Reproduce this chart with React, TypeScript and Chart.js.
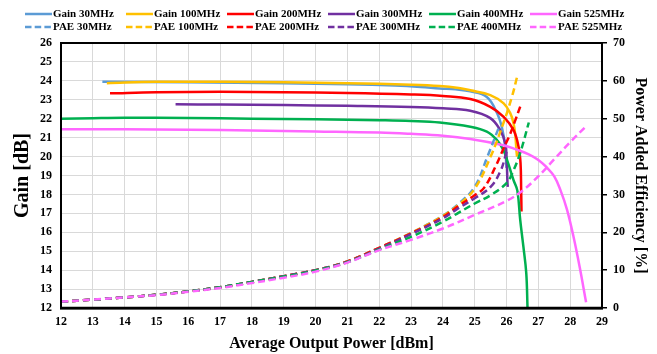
import React, { useEffect, useRef } from 'react';
import { Chart, registerables } from 'chart.js';

Chart.register(...registerables);

const FONT = '"Liberation Serif", "Times New Roman", serif';

// ---- data: [Average output power dBm, value] ----
const gain30 = [[13.3, 23.95], [16, 23.92], [19, 23.87], [21, 23.82], [22.5, 23.75], [23.3, 23.68], [23.9, 23.6], [24.4, 23.55], [24.86, 23.45], [25.38, 23.15], [25.7, 22.3], [25.86, 21.5], [25.95, 20.6], [26.0, 19.4]];
const gain100 = [[13.44, 23.88], [15, 23.95], [17, 23.95], [19, 23.92], [21, 23.88], [23, 23.8], [23.9, 23.73], [24.5, 23.62], [24.86, 23.5], [25.49, 23.25], [25.91, 22.81], [26.12, 22.28], [26.22, 21.76], [26.28, 21.05], [26.31, 20.35], [26.33, 20.0]];
const gain200 = [[13.54, 23.34], [15, 23.4], [17, 23.42], [19, 23.4], [21, 23.36], [23, 23.28], [24, 23.2], [24.86, 23.04], [25.49, 22.63], [25.91, 22.1], [26.22, 21.4], [26.38, 20.5], [26.44, 19.65], [26.46, 18.2], [26.47, 17.1]];
const gain300 = [[15.6, 22.76], [17, 22.75], [19, 22.72], [21, 22.68], [23, 22.62], [24, 22.55], [24.86, 22.42], [25.49, 22.03], [25.8, 21.4], [25.96, 20.7], [26.0, 19.98], [26.03, 18.6], [26.04, 18.4]];
const gain400 = [[12, 22.0], [13, 22.03], [14, 22.05], [16, 22.04], [18, 22.0], [20, 21.97], [22, 21.92], [23, 21.88], [23.9, 21.8], [24.86, 21.58], [25.38, 21.32], [25.7, 20.87], [25.9, 20.35], [26.05, 19.65], [26.22, 18.76], [26.34, 18.2], [26.43, 16.65], [26.53, 15.24], [26.62, 13.84], [26.66, 12.0]];
const gain525 = [[12, 21.45], [14, 21.44], [16, 21.42], [18, 21.38], [20, 21.33], [22, 21.27], [23, 21.2], [24, 21.1], [24.86, 20.93], [25.9, 20.6], [26.3, 20.38], [26.7, 20.12], [27.0, 19.82], [27.25, 19.45], [27.5, 18.95], [27.7, 18.2], [27.9, 17.2], [28.1, 15.8], [28.3, 14.15], [28.5, 12.3]];

const pae30 = [[12, 1.7], [13, 2.2], [14, 2.8], [15, 3.5], [16, 4.4], [17, 5.5], [18, 6.9], [19, 8.4], [20, 10.0], [21, 12.3], [22, 15.9], [23, 19.8], [24, 24.4], [24.5, 27.6], [25, 32.0], [25.4, 40.0], [25.75, 47.5]];
const pae100 = [[12, 1.7], [13, 2.2], [14, 2.8], [15, 3.5], [16, 4.4], [17, 5.5], [18, 6.9], [19, 8.4], [20, 10.0], [21, 12.3], [22, 15.9], [23, 19.8], [24, 24.3], [24.5, 27.3], [25, 31.5], [25.5, 40.0], [25.9, 48.8], [26.17, 55.8], [26.33, 61.0]];
const pae200 = [[12, 1.7], [13, 2.2], [14, 2.8], [15, 3.5], [16, 4.4], [17, 5.5], [18, 6.9], [19, 8.4], [20, 10.0], [21, 12.3], [22, 15.9], [23, 19.7], [24, 24.0], [24.5, 27.0], [25, 29.8], [25.3, 31.8], [25.65, 37.3], [25.91, 42.2], [26.12, 46.1], [26.28, 49.7], [26.43, 53.2]];
const pae300 = [[12, 1.7], [13, 2.2], [14, 2.8], [15, 3.5], [16, 4.4], [17, 5.5], [18, 6.9], [19, 8.4], [20, 10.0], [21, 12.2], [22, 15.7], [23, 19.5], [24, 23.7], [24.5, 26.4], [25, 29.0], [25.5, 32.0], [25.8, 36.0], [25.96, 40.0], [26.02, 42.3]];
const pae400 = [[12, 1.7], [13, 2.2], [14, 2.8], [15, 3.5], [16, 4.4], [17, 5.5], [18, 6.9], [19, 8.3], [20, 9.9], [21, 12.1], [22, 15.5], [23, 18.8], [24, 22.8], [24.5, 25.2], [25, 27.6], [25.5, 29.8], [26, 33.0], [26.2, 36.0], [26.43, 41.0], [26.7, 49.0]];
const pae525 = [[12, 1.7], [13, 2.2], [14, 2.8], [15, 3.4], [16, 4.3], [17, 5.3], [18, 6.6], [19, 8.0], [20, 9.6], [21, 12.0], [22, 15.3], [23, 18.0], [24, 21.0], [25, 24.6], [26, 28.3], [26.5, 31.0], [27, 34.8], [27.5, 39.3], [28, 43.8], [28.5, 48.0]];

const gainSeries = [gain30, gain100, gain200, gain300, gain400, gain525];
const paeSeries = [pae30, pae100, pae200, pae300, pae400, pae525];
const freqLabels = ['30MHz', '100MHz', '200MHz', '300MHz', '400MHz', '525MHz'];
const colors = ['#5B9BD5', '#FFC000', '#FF0000', '#7030A0', '#00B050', '#FF66FF'];

const xTicks = { min: 12, max: 29, step: 1 };
const gainTicks = { min: 12, max: 26, step: 1 };
const paeTicks = { min: 0, max: 70, step: 10 };

const DASH = [7, 4];

const legendPlugin = {
  id: 'customLegend',
  afterDraw(chart: any) {
    const ctx = chart.ctx;
    ctx.save();
    ctx.font = `bold 11px ${FONT}`;
    ctx.textBaseline = 'middle';
    ctx.textAlign = 'left';
    chart.data.datasets.forEach((ds: any, i: number) => {
      const row = i < 6 ? 0 : 1;
      const col = i % 6;
      const x = 24 + col * 101;
      const y = row === 0 ? 14 : 27;
      ctx.strokeStyle = ds.borderColor;
      ctx.lineWidth = 2.5;
      ctx.setLineDash(row === 0 ? [] : [6.5, 3.2]);
      ctx.beginPath();
      ctx.moveTo(x + 1, y);
      ctx.lineTo(x + 28, y);
      ctx.stroke();
      ctx.setLineDash([]);
      ctx.fillStyle = '#000';
      ctx.fillText(ds.label, x + 29, y + 0.5);
    });
    // chart area frame
    const a = chart.chartArea;
    ctx.strokeStyle = '#000';
    ctx.lineWidth = 2;
    ctx.strokeRect(a.left, a.top, a.right - a.left, a.bottom - a.top);
    ctx.lineWidth = 2.5;
    ctx.beginPath();
    ctx.moveTo(a.left - 1, a.bottom);
    ctx.lineTo(a.right + 1, a.bottom);
    ctx.stroke();
    ctx.restore();
  },
};

export default function App() {
  const ref = useRef<HTMLCanvasElement>(null);
  useEffect(() => {
    const toPts = (arr: number[][]) => arr.map(([x, y]) => ({ x, y }));
    const datasets: any[] = [];
    gainSeries.forEach((s, i) => {
      datasets.push({
        label: 'Gain ' + freqLabels[i],
        data: toPts(s),
        borderColor: colors[i],
        backgroundColor: colors[i],
        borderWidth: 2.5,
        pointRadius: 0,
        tension: 0.4,
        yAxisID: 'y',
        order: -i,
      });
    });
    paeSeries.forEach((s, i) => {
      datasets.push({
        label: 'PAE ' + freqLabels[i],
        data: toPts(s),
        borderColor: colors[i],
        backgroundColor: colors[i],
        borderWidth: 2.5,
        borderDash: DASH,
        pointRadius: 0,
        tension: 0.4,
        yAxisID: 'y2',
        order: -(i + 6),
      });
    });
    const tickFont = { family: FONT, size: 12, weight: 'bold' as const };
    const chart = new Chart(ref.current!, {
      type: 'line',
      data: { datasets },
      plugins: [legendPlugin],
      options: {
        responsive: false,
        animation: false,
        devicePixelRatio: 1,
        layout: { padding: { top: 43, left: 0, right: 0, bottom: 0 } },
        plugins: { legend: { display: false }, tooltip: { enabled: false } },
        scales: {
          x: {
            type: 'linear',
            min: xTicks.min,
            max: xTicks.max,
            ticks: { stepSize: xTicks.step, font: tickFont, color: '#000', padding: 7 },
            grid: { color: '#D9D9D9', lineWidth: 1, drawTicks: false },
            border: { display: true, color: '#000', width: 2.5 },
            title: {
              display: true,
              text: 'Average Output Power [dBm]',
              font: { family: FONT, size: 16, weight: 'bold' },
              color: '#000',
              padding: { top: 0, bottom: 1 },
            },
            afterFit: (s: any) => { s.height = 46; },
          },
          y: {
            type: 'linear',
            position: 'left',
            min: gainTicks.min,
            max: gainTicks.max,
            ticks: { stepSize: gainTicks.step, font: tickFont, color: '#000', padding: 9 },
            grid: { color: '#D9D9D9', lineWidth: 1, drawTicks: false },
            border: { display: true, color: '#000', width: 2 },
            title: {
              display: true,
              text: 'Gain [dB]',
              font: { family: FONT, size: 20, weight: 'bold' },
              color: '#000',
              padding: { top: 11, bottom: 0 },
            },
            afterFit: (s: any) => { s.width = 61; },
          },
          y2: {
            type: 'linear',
            position: 'right',
            min: paeTicks.min,
            max: paeTicks.max,
            ticks: { stepSize: paeTicks.step, font: tickFont, color: '#000', padding: 6 },
            grid: { drawOnChartArea: false, drawTicks: true, tickLength: 5, color: '#000', lineWidth: 1.5 },
            border: { display: true, color: '#000', width: 2 },
            title: {
              display: true,
              text: 'Power Added Efficiency [%]',
              font: { family: FONT, size: 16, weight: 'bold' },
              color: '#000',
              padding: { top: 7, bottom: 0 },
            },
            afterFit: (s: any) => { s.width = 55; },
          },
        },
      } as any,
    });
    return () => chart.destroy();
  }, []);
  return (
    <div style={{ position: 'fixed', left: 0, top: 0, width: 657, height: 354, background: '#fff' }}>
      <canvas ref={ref} width={657} height={354} />
    </div>
  );
}
